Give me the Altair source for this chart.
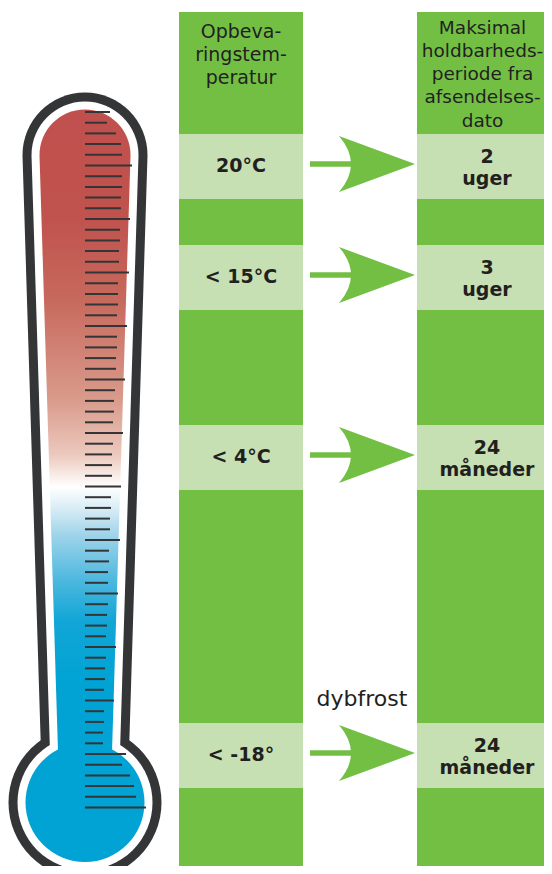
import altair as alt
import pandas as pd

# ---------------- content ----------------
header_left = ["Opbeva-", "ringstem-", "peratur"]
header_right = ["Maksimal", "holdbarheds-", "periode fra", "afsendelses-", "dato"]
temperatures = ["20°C", "< 15°C", "< 4°C", "< -18°"]
period_numbers = ["2", "3", "24", "24"]
period_units = ["uger", "uger", "måneder", "måneder"]
note_text = "dybfrost"
# right end (px) of each graduation mark on the thermometer, top to bottom
tick_end = [110, 107, 116, 121, 122, 132, 122, 122, 121, 121, 130, 120, 120, 119, 119, 129,
            118, 118, 118, 117, 127, 117, 117, 116, 116, 125, 115,
            114, 114, 113, 123, 113, 112, 112, 112, 121, 111, 111, 110, 110, 120,
            109, 109, 108, 108, 118, 108, 107, 107, 106, 116, 106, 105, 105,
            104, 114, 104, 104, 103, 103, 126, 122, 130, 134, 136, 146]

# ---------------- layout (page pixels) ----------------
GREEN = "#72bf44"
LIGHT = "#c6e0b4"
DARK = "#333537"
TEXT = "#231f20"
BLUE = "#00a3d3"
FONT = "DejaVu Sans"

# visible page area: the chart starts at the 8px body margin
PX0, PY0, PW, PH = 8, 8, 536, 858

col_left = (179, 303)
col_right = (417, 552)
col_top, col_bottom = 12, 874
band_tops = [134, 245, 425, 723]
band_h = 65
left_cx, right_cx = 241, 487
right_hdr_cx = 482.5
shaft_x = (310, 352)
tip_x = 415

therm_cx, cap_cy = 85, 155
bulb_cy = 802.5
tick_x0, tick_top, tick_step = 85, 112, 10.7

xs = alt.Scale(domain=[PX0, PX0 + PW], nice=False, zero=False)
ys = alt.Scale(domain=[PY0, PY0 + PH], nice=False, zero=False, reverse=True)


def X(f):
    return alt.X(f"{f}:Q", scale=xs, axis=None)


def Y(f):
    return alt.Y(f"{f}:Q", scale=ys, axis=None)


def tube_path(r, taper_len=645, taper=0.031):
    k = 0.5523 * r
    hb = r - taper * taper_len
    return (f"M {-r} 0 C {-r} {-k} {-k} {-r} 0 {-r} C {k} {-r} {r} {-k} {r} 0 "
            f"L {hb:.2f} {taper_len} L {-hb:.2f} {taper_len} Z")


layers = []

# columns
cols = pd.DataFrame({"x": [col_left[0], col_right[0]], "x2": [col_left[1], col_right[1]],
                     "y": [col_top, col_top], "y2": [col_bottom, col_bottom]})
layers.append(alt.Chart(cols).mark_rect(color=GREEN, clip=True).encode(
    x=X("x"), x2="x2", y=Y("y"), y2="y2"))

# light bands
bands = pd.DataFrame([{"x": c[0], "x2": c[1], "y": t, "y2": t + band_h}
                      for t in band_tops for c in (col_left, col_right)])
layers.append(alt.Chart(bands).mark_rect(color=LIGHT, clip=True).encode(
    x=X("x"), x2="x2", y=Y("y"), y2="y2"))

# arrows
shafts = pd.DataFrame({"x": [shaft_x[0]] * 4, "x2": [shaft_x[1]] * 4,
                       "y": [t + 30 - 2.75 for t in band_tops],
                       "y2": [t + 30 + 2.75 for t in band_tops]})
layers.append(alt.Chart(shafts).mark_rect(color=GREEN).encode(
    x=X("x"), x2="x2", y=Y("y"), y2="y2"))
head_path = "M -76 -28 L 0 0 L -76 28 Q -52 0 -76 -28 Z"
heads = pd.DataFrame({"x": [tip_x] * 4, "y": [t + 30 for t in band_tops]})
layers.append(alt.Chart(heads).mark_point(shape=head_path, size=4, filled=True, opacity=1,
                                          strokeWidth=0, color=GREEN).encode(
    x=X("x"), y=Y("y")))

# headers
hdr_l = pd.DataFrame([{"x": left_cx, "y": 38 + 23 * i, "t": s}
                      for i, s in enumerate(header_left)])
layers.append(alt.Chart(hdr_l).mark_text(font=FONT, fontSize=19, align="center",
                                         baseline="alphabetic", color=TEXT).encode(
    x=X("x"), y=Y("y"), text="t:N"))
hdr_r = pd.DataFrame([{"x": right_hdr_cx, "y": 33.5 + 23.3 * i, "t": s}
                      for i, s in enumerate(header_right)])
layers.append(alt.Chart(hdr_r).mark_text(font=FONT, fontSize=18.5, align="center",
                                         baseline="alphabetic", color=TEXT).encode(
    x=X("x"), y=Y("y"), text="t:N"))

# band texts
rows = []
for t, temp, num, unit in zip(band_tops, temperatures, period_numbers, period_units):
    rows.append({"x": left_cx, "y": t + 37.5, "t": temp})
    rows.append({"x": right_cx, "y": t + 28.5, "t": num})
    rows.append({"x": right_cx, "y": t + 50.5, "t": unit})
layers.append(alt.Chart(pd.DataFrame(rows)).mark_text(
    font=FONT, fontSize=19, fontWeight="bold", align="center",
    baseline="alphabetic", color=TEXT).encode(x=X("x"), y=Y("y"), text="t:N"))

note = pd.DataFrame({"x": [362], "y": [706], "t": [note_text]})
layers.append(alt.Chart(note).mark_text(font=FONT, fontSize=22, align="center",
                                        baseline="alphabetic", color=TEXT).encode(
    x=X("x"), y=Y("y"), text="t:N"))

# thermometer
cap = pd.DataFrame({"x": [therm_cx], "y": [cap_cy]})
bulb = pd.DataFrame({"x": [therm_cx], "y": [bulb_cy]})
grad_top, grad_bot = cap_cy - 45.5, cap_cy + 645


def off(y):
    return (y - grad_top) / (grad_bot - grad_top)


gradient = {
    "gradient": "linear", "x1": 0, "y1": 0, "x2": 0, "y2": 1,
    "stops": [
        {"offset": 0, "color": "#c0504d"},
        {"offset": off(220), "color": "#c0534e"},
        {"offset": off(300), "color": "#c7695d"},
        {"offset": off(400), "color": "#d99b8c"},
        {"offset": off(455), "color": "#ecc9bd"},
        {"offset": off(487), "color": "#ffffff"},
        {"offset": off(510), "color": "#d5ebf5"},
        {"offset": off(535), "color": "#9fd4ea"},
        {"offset": off(580), "color": "#4db8df"},
        {"offset": off(620), "color": "#12a6d6"},
        {"offset": off(680), "color": BLUE},
        {"offset": 1, "color": BLUE},
    ],
}

for r_tube, r_bulb, col in ((62.5, 76.5, DARK), (53.5, 67.5, "#ffffff"), (45.5, 59.5, None)):
    fill = gradient if col is None else col
    layers.append(alt.Chart(cap).mark_point(shape=tube_path(r_tube), size=4, filled=True,
                                            opacity=1, strokeWidth=0, fill=fill).encode(
        x=X("x"), y=Y("y")))
    layers.append(alt.Chart(bulb).mark_point(shape="circle", size=(2 * r_bulb) ** 2,
                                             filled=True, opacity=1, strokeWidth=0,
                                             fill=(BLUE if col is None else col)).encode(
        x=X("x"), y=Y("y")))

ticks = pd.DataFrame({"x": [tick_x0] * len(tick_end), "x2": tick_end,
                      "y": [tick_top + tick_step * i for i in range(len(tick_end))]})
layers.append(alt.Chart(ticks).mark_rule(color=DARK, strokeWidth=2).encode(
    x=X("x"), x2="x2", y=Y("y")))

chart = alt.layer(*layers).properties(
    width=PW, height=PH, padding=0, autosize="none", background="#ffffff"
).configure_view(strokeWidth=0)

chart.save("out.html", embed_options={"renderer": "svg", "actions": False})
